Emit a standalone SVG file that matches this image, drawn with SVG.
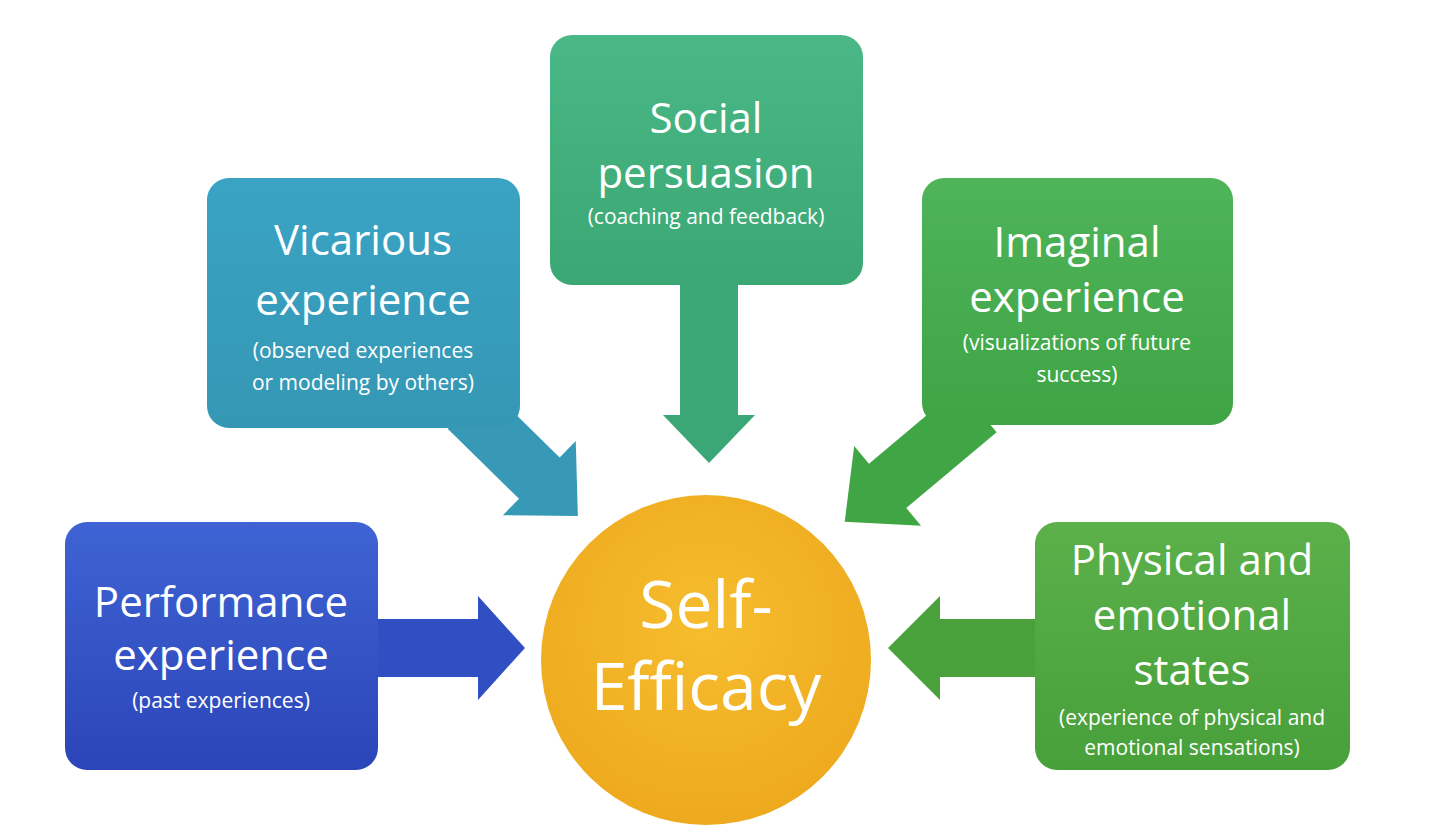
<svg xmlns="http://www.w3.org/2000/svg" width="1440" height="829" viewBox="0 0 1440 829">
<defs>
<linearGradient id="gBlue" x1="0" y1="0" x2="0" y2="1"><stop offset="0" stop-color="#3f63d4"/><stop offset="1" stop-color="#2b45b8"/></linearGradient>
<linearGradient id="gTeal" x1="0" y1="0" x2="0" y2="1"><stop offset="0" stop-color="#3aa3c4"/><stop offset="1" stop-color="#3597b4"/></linearGradient>
<linearGradient id="gSoc" x1="0" y1="0" x2="0" y2="1"><stop offset="0" stop-color="#4ab886"/><stop offset="1" stop-color="#3aa774"/></linearGradient>
<linearGradient id="gIma" x1="0" y1="0" x2="0" y2="1"><stop offset="0" stop-color="#4fb45a"/><stop offset="1" stop-color="#3ea444"/></linearGradient>
<linearGradient id="gPhy" x1="0" y1="0" x2="0" y2="1"><stop offset="0" stop-color="#5bb04a"/><stop offset="1" stop-color="#48a03a"/></linearGradient>
<radialGradient id="gSun" cx="0.5" cy="0.4" r="0.6"><stop offset="0" stop-color="#f6bd2e"/><stop offset="1" stop-color="#eeaa1e"/></radialGradient>
</defs>
<style>
text{fill:#fff;font-family:"Open Sans","Noto Sans",sans-serif;text-anchor:middle}
.t{font-size:42px}
.s{font-size:21px}
.c{font-size:66px}
</style>
<rect width="1440" height="829" fill="#fff"/>
<g id="connectors">
<path transform="translate(378,648)" d="M0,-29 H100 V-52 L147,0 L100,52 V29 H0Z" fill="#2f4fc2"/>
<path transform="translate(468,408) rotate(44.5)" d="M0,-29 H100 V-52 L154,0 L100,52 V29 H0Z" fill="#3899b6"/>
<path transform="translate(709,280) rotate(90)" d="M0,-29 H135 V-46 L183,0 L135,46 V29 H0Z" fill="#3ca776"/>
<path transform="translate(978,410) rotate(140)" d="M0,-29 H118 V-52 L174,0 L118,52 V29 H0Z" fill="#40a645"/>
<path transform="translate(1040,648) rotate(180)" d="M0,-29 H100 V-52 L152,0 L100,52 V29 H0Z" fill="#4aa13b"/>
</g>
<g id="performance">
<rect x="65" y="522" width="313" height="248" rx="22" fill="url(#gBlue)"/>
<text class="t" x="221" y="617">Performance</text>
<text class="t" x="221" y="670">experience</text>
<text class="s" x="221" y="708">(past experiences)</text>
</g>
<g id="vicarious">
<rect x="207" y="178" width="313" height="250" rx="22" fill="url(#gTeal)"/>
<text class="t" x="363" y="255">Vicarious</text>
<text class="t" x="363" y="315">experience</text>
<text class="s" x="363" y="358">(observed experiences</text>
<text class="s" x="363" y="390">or modeling by others)</text>
</g>
<g id="social">
<rect x="550" y="35" width="313" height="250" rx="22" fill="url(#gSoc)"/>
<text class="t" x="706" y="133">Social</text>
<text class="t" x="706" y="188">persuasion</text>
<text class="s" x="706" y="224">(coaching and feedback)</text>
</g>
<g id="imaginal">
<rect x="922" y="178" width="311" height="247" rx="22" fill="url(#gIma)"/>
<text class="t" x="1077" y="257">Imaginal</text>
<text class="t" x="1077" y="312">experience</text>
<text class="s" x="1077" y="350">(visualizations of future</text>
<text class="s" x="1077" y="382">success)</text>
</g>
<g id="physical">
<rect x="1035" y="522" width="315" height="248" rx="22" fill="url(#gPhy)"/>
<text class="t" x="1192" y="575">Physical and</text>
<text class="t" x="1192" y="630">emotional</text>
<text class="t" x="1192" y="685">states</text>
<text class="s" x="1192" y="725">(experience of physical and</text>
<text class="s" x="1192" y="755">emotional sensations)</text>
</g>
<g id="selfefficacy">
<circle cx="706" cy="660" r="165" fill="url(#gSun)"/>
<text class="c" x="706" y="628">Self-</text>
<text class="c" x="706" y="710">Efficacy</text>
</g>
</svg>
